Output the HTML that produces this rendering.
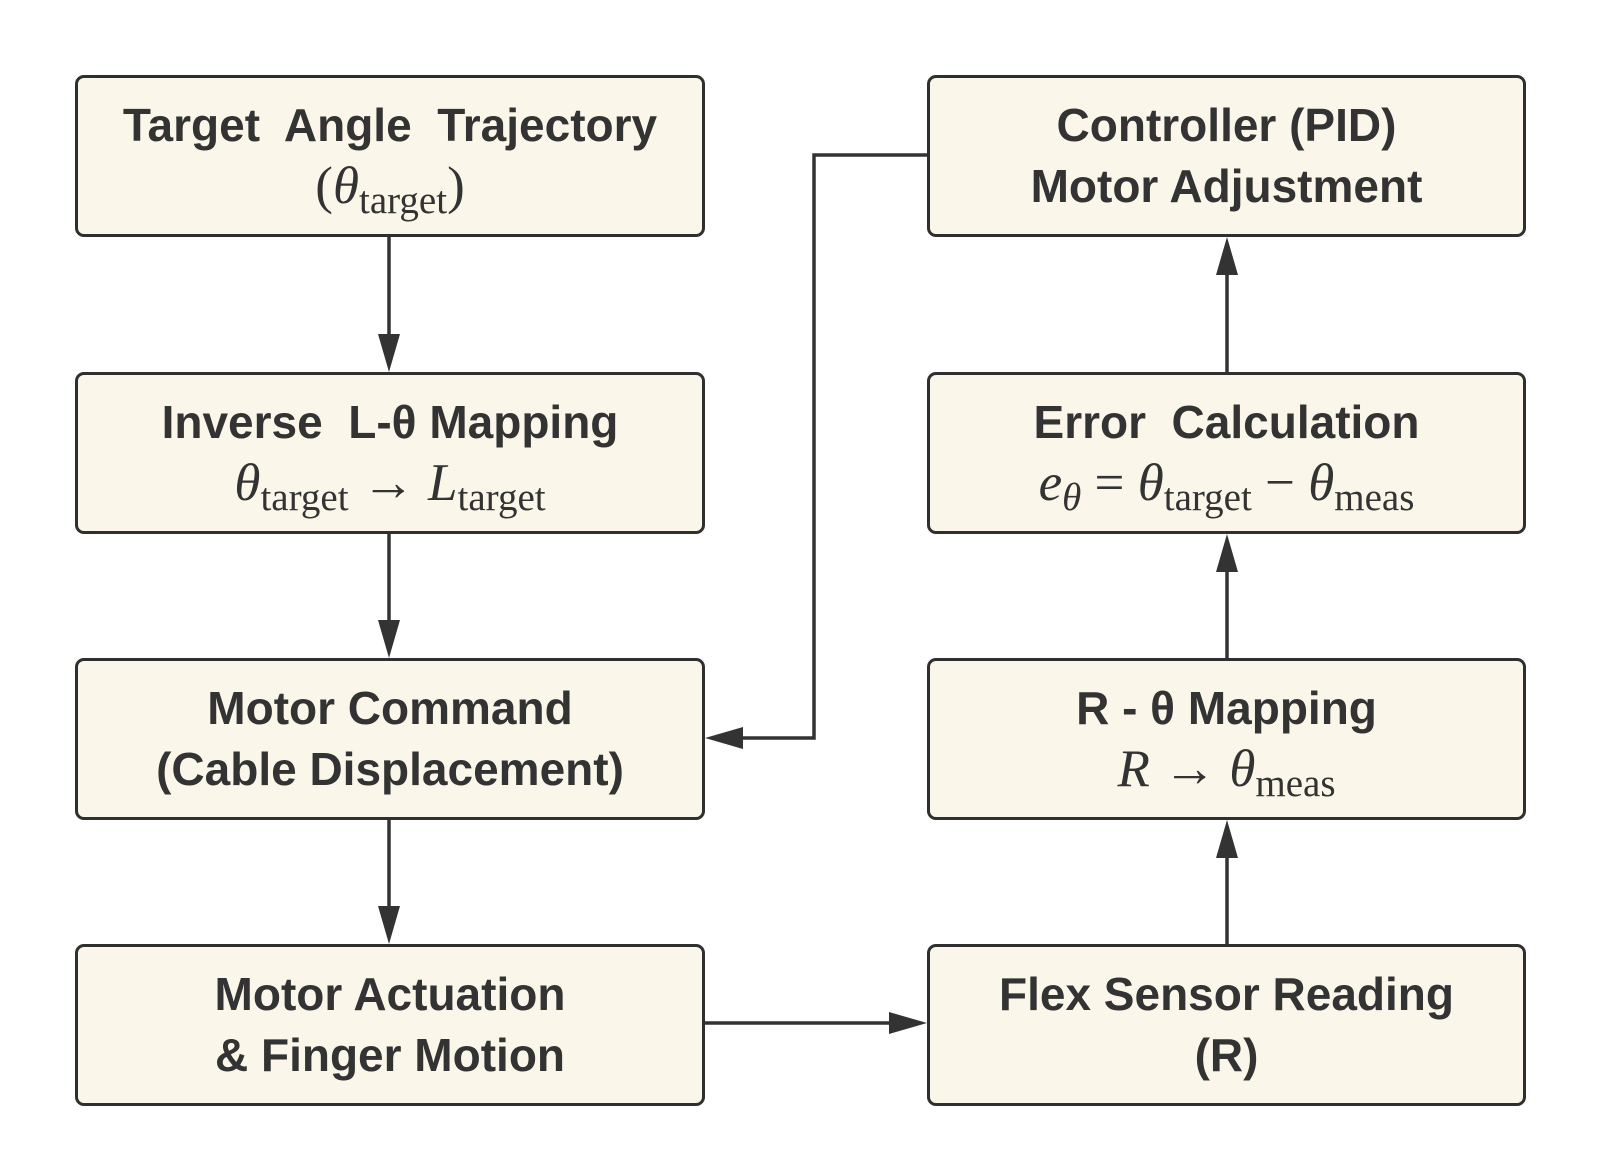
<!DOCTYPE html>
<html><head><style>
body{margin:0;width:1597px;height:1176px;background:#fff;position:relative;overflow:hidden}
.b{position:absolute;box-sizing:border-box;background:#faf7ea;border:3.5px solid #2f2f2f;border-radius:9px;display:flex;flex-direction:column;justify-content:center;align-items:center;text-align:center;color:#333;font-family:"Liberation Sans","DejaVu Sans",sans-serif;font-weight:bold;font-size:46px;line-height:61px}
.m{font-family:"Liberation Serif",serif;font-weight:normal;font-size:53px}
.m i{font-style:italic}
.m sub{font-size:39px;vertical-align:-10px;line-height:0}
.L{left:75px;width:630px}.R{left:927px;width:599px}
.r1{top:75px;height:162px}.r2{top:372px;height:162px}.r3{top:658px;height:162px}.r4{top:944px;height:162px}
</style></head><body>
<svg width="1597" height="1176" style="position:absolute;left:0;top:0">
<g stroke="#333" stroke-width="3.5" fill="none">
<line x1="389" y1="237" x2="389" y2="347"/><path d="M378,334L389,372L400,334z" fill="#333" stroke="none"/>
<line x1="389" y1="534" x2="389" y2="633"/><path d="M378,620L389,658L400,620z" fill="#333" stroke="none"/>
<line x1="389" y1="820" x2="389" y2="919"/><path d="M378,906L389,944L400,906z" fill="#333" stroke="none"/>
<line x1="705" y1="1023" x2="902" y2="1023"/><path d="M889,1012L927,1023L889,1034z" fill="#333" stroke="none"/>
<line x1="1227" y1="944" x2="1227" y2="845"/><path d="M1216,858L1227,820L1238,858z" fill="#333" stroke="none"/>
<line x1="1227" y1="658" x2="1227" y2="559"/><path d="M1216,572L1227,534L1238,572z" fill="#333" stroke="none"/>
<line x1="1227" y1="372" x2="1227" y2="262"/><path d="M1216,275L1227,237L1238,275z" fill="#333" stroke="none"/>
<polyline points="927,155 814,155 814,738 730,738"/><path d="M743,727L705,738L743,749z" fill="#333" stroke="none"/>
</g></svg>
<div class="b L r1"><div>Target&nbsp; Angle&nbsp; Trajectory</div><div class="m">(<i>θ</i><sub>target</sub>)</div></div>
<div class="b L r2"><div>Inverse&nbsp; L-θ Mapping</div><div class="m"><i>θ</i><sub>target</sub> → <i>L</i><sub>target</sub></div></div>
<div class="b L r3"><div>Motor Command</div><div>(Cable Displacement)</div></div>
<div class="b L r4"><div>Motor Actuation</div><div>&amp; Finger Motion</div></div>
<div class="b R r1"><div>Controller (PID)</div><div>Motor Adjustment</div></div>
<div class="b R r2"><div>Error&nbsp; Calculation</div><div class="m"><i>e</i><sub><i>θ</i></sub> = <i>θ</i><sub>target</sub> − <i>θ</i><sub>meas</sub></div></div>
<div class="b R r3"><div>R - θ Mapping</div><div class="m"><i>R</i> → <i>θ</i><sub>meas</sub></div></div>
<div class="b R r4"><div>Flex Sensor Reading</div><div>(R)</div></div>
</body></html>
